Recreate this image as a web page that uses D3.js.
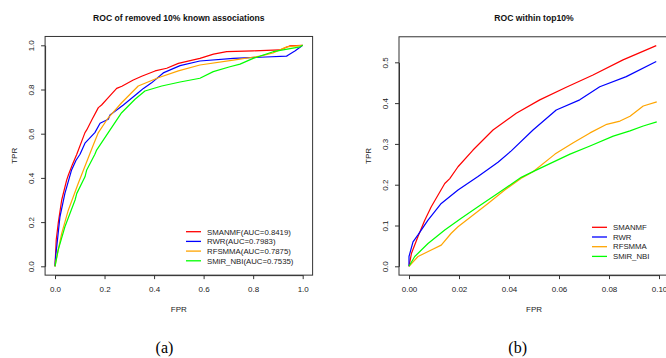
<!DOCTYPE html>
<html>
<head>
<meta charset="utf-8">
<script src="https://cdn.jsdelivr.net/npm/d3@7"></script>
<style>
  body { margin: 0; background: #fff; }
  svg { display: block; font-family: "Liberation Sans", Arial, sans-serif; }
</style>
</head>
<body>
<script>
// Nombres de los métodos y colores
const methods = ["SMANMF", "RWR", "RFSMMA", "SMiR_NBI"];
const aucValues = ["0.8419", "0.7983", "0.7875", "0.7535"];
const colors = ["#ff0000", "#0000ff", "#ffa500", "#00ff00"];

// Curvas ROC del panel (a): pares [FPR, TPR]
const rocA_SMANMF = [[0,0],[0.005,0.12],[0.013,0.195],[0.027,0.30],[0.047,0.39],[0.054,0.413],[0.07,0.46],[0.088,0.507],[0.121,0.605],[0.128,0.617],[0.15,0.665],[0.175,0.718],[0.188,0.73],[0.215,0.763],[0.249,0.805],[0.27,0.815],[0.316,0.843],[0.35,0.86],[0.404,0.884],[0.451,0.896],[0.498,0.918],[0.585,0.941],[0.64,0.96],[0.693,0.971],[0.8,0.975],[0.908,0.979],[0.949,0.998],[1,1]];
const rocA_RWR = [[0,0],[0.003,0.05],[0.007,0.089],[0.02,0.224],[0.04,0.33],[0.067,0.436],[0.085,0.48],[0.101,0.507],[0.121,0.557],[0.161,0.605],[0.182,0.647],[0.215,0.665],[0.222,0.685],[0.276,0.73],[0.336,0.785],[0.357,0.805],[0.39,0.83],[0.437,0.875],[0.505,0.908],[0.585,0.929],[0.72,0.941],[0.85,0.947],[0.935,0.951],[0.942,0.956],[0.97,0.975],[1,1]];
const rocA_RFSMMA = [[0,0],[0.007,0.043],[0.027,0.149],[0.054,0.255],[0.094,0.376],[0.134,0.49],[0.155,0.55],[0.175,0.605],[0.215,0.672],[0.269,0.74],[0.336,0.816],[0.417,0.853],[0.498,0.884],[0.585,0.911],[0.72,0.933],[0.828,0.951],[0.88,0.965],[0.935,0.993],[1,1]];
const rocA_SMiR_NBI = [[0,0],[0.013,0.074],[0.04,0.179],[0.081,0.30],[0.088,0.33],[0.121,0.405],[0.128,0.436],[0.161,0.507],[0.168,0.526],[0.215,0.605],[0.269,0.695],[0.323,0.756],[0.363,0.793],[0.431,0.816],[0.505,0.834],[0.585,0.851],[0.639,0.881],[0.706,0.903],[0.747,0.915],[0.8,0.941],[0.881,0.971],[0.989,0.993],[1,1]];

// Curvas ROC del panel (b), dentro del top 10%
const rocB_SMANMF = [[0,0],[0.001,0.032],[0.0036,0.073],[0.0063,0.113],[0.0089,0.146],[0.0143,0.203],[0.0163,0.215],[0.0196,0.244],[0.0256,0.285],[0.0336,0.334],[0.0429,0.375],[0.0523,0.408],[0.0629,0.439],[0.0736,0.469],[0.0856,0.506],[0.0989,0.541]];
const rocB_RWR = [[0,0],[0,0.024],[0.0016,0.06],[0.0036,0.077],[0.0076,0.113],[0.0129,0.154],[0.0196,0.187],[0.0276,0.22],[0.0356,0.255],[0.0409,0.283],[0.0496,0.334],[0.0589,0.383],[0.0683,0.408],[0.0763,0.44],[0.0869,0.465],[0.0989,0.502]];
const rocB_RFSMMA = [[0,0],[0.0036,0.024],[0.0089,0.04],[0.0129,0.052],[0.0169,0.081],[0.0196,0.097],[0.0249,0.122],[0.0316,0.154],[0.0383,0.187],[0.0449,0.216],[0.0496,0.232],[0.0584,0.275],[0.0657,0.303],[0.0724,0.327],[0.0791,0.348],[0.0844,0.356],[0.0884,0.368],[0.0937,0.393],[0.0991,0.403]];
const rocB_SMiR_NBI = [[0,0],[0.0023,0.024],[0.0076,0.056],[0.0143,0.089],[0.0209,0.118],[0.0276,0.146],[0.0356,0.179],[0.0449,0.218],[0.0496,0.232],[0.0644,0.275],[0.0724,0.295],[0.0817,0.319],[0.0884,0.332],[0.0937,0.344],[0.0991,0.354]];

// Ticks de los ejes
const ticksA_x = [0, 0.2, 0.4, 0.6, 0.8, 1.0];
const ticksA_y = [0, 0.2, 0.4, 0.6, 0.8, 1.0];
const ticksB_x = [0, 0.02, 0.04, 0.06, 0.08, 0.10];
const ticksB_y = [0, 0.1, 0.2, 0.3, 0.4, 0.5];

const svg = d3.select("body").append("svg")
    .attr("width", 666)
    .attr("height", 358);

// Dibuja un panel completo al estilo de R
function drawPanel(p) {
    const x = d3.scaleLinear().domain([0, p.xMax]).range(p.xRange);
    const y = d3.scaleLinear().domain([0, p.yMax]).range(p.yRange);

    // caja con 4% de margen sobre el rango de los datos (como R)
    const dx = p.xMax * 0.04;
    const dy = p.yMax * 0.04;
    const x0 = x(-dx), x1 = x(p.xMax + dx);
    const y0 = y(p.yMax + dy), y1 = y(-dy);

    const g = svg.append("g");

    const line = d3.line().x(d => x(d[0])).y(d => y(d[1]));
    g.selectAll("path.roc")
        .data(p.series)
        .enter()
        .append("path")
        .attr("class", "roc")
        .attr("d", d => line(d))
        .attr("fill", "none")
        .attr("stroke", (d, i) => colors[i])
        .attr("stroke-width", 1.2)
        .attr("stroke-linejoin", "round");

    g.append("rect")
        .attr("x", x0).attr("y", y0)
        .attr("width", x1 - x0).attr("height", y1 - y0)
        .attr("fill", "none")
        .attr("stroke", "#333")
        .attr("stroke-width", 1);

    // eje x (la línea va del primer al último tick)
    const xa = x.copy().domain(d3.extent(p.xTicks)).range(d3.extent(p.xTicks).map(x));
    const xAxis = g.append("g")
        .attr("transform", `translate(0, ${y1})`)
        .call(d3.axisBottom(xa).tickValues(p.xTicks).tickFormat(d3.format(p.xFmt)).tickSize(4).tickSizeOuter(0));
    xAxis.selectAll("text")
        .attr("y", 17).attr("dy", 0)
        .style("font-size", "8px").attr("fill", "#222");

    // eje y con etiquetas verticales
    const ya = y.copy().domain(d3.extent(p.yTicks)).range(d3.extent(p.yTicks).map(y));
    const yAxis = g.append("g")
        .attr("transform", `translate(${x0}, 0)`)
        .call(d3.axisLeft(ya).tickValues(p.yTicks).tickFormat(d3.format(p.yFmt)).tickSize(4).tickSizeOuter(0));
    yAxis.selectAll("text")
        .attr("x", 0).attr("dy", 0)
        .attr("text-anchor", "middle")
        .attr("transform", "translate(-11, 0) rotate(-90)")
        .style("font-size", "8px").attr("fill", "#222");
    g.selectAll(".domain, .tick line").attr("stroke", "#333");

    const cx = (x0 + x1) / 2, cy = (y0 + y1) / 2;

    g.append("text")
        .text(p.title)
        .attr("x", cx).attr("y", 21)
        .attr("text-anchor", "middle")
        .style("font-size", "8.6px").style("font-weight", "bold")
        .attr("fill", "#111");

    g.append("text")
        .text("FPR")
        .attr("x", cx).attr("y", 312)
        .attr("text-anchor", "middle")
        .style("font-size", "8px").attr("fill", "#222");

    g.append("text")
        .text("TPR")
        .attr("transform", `translate(${x0 - 28}, ${cy}) rotate(-90)`)
        .attr("text-anchor", "middle")
        .style("font-size", "8px").attr("fill", "#222");

    // leyenda
    const legend = g.append("g")
        .attr("transform", `translate(${p.legendX}, ${p.legendY})`);
    legend.selectAll("line")
        .data(p.labels)
        .enter()
        .append("line")
        .attr("x1", 0).attr("x2", 15)
        .attr("y1", (d, i) => i * 9.7).attr("y2", (d, i) => i * 9.7)
        .attr("stroke", (d, i) => colors[i])
        .attr("stroke-width", 1.3);
    legend.selectAll("text")
        .data(p.labels)
        .enter()
        .append("text")
        .text(d => d)
        .attr("x", 21)
        .attr("y", (d, i) => i * 9.7 + 2.8)
        .style("font-size", "7.8px")
        .attr("fill", "#222");

    // etiqueta del panel
    svg.append("text")
        .text(p.caption)
        .attr("x", p.captionX).attr("y", 353)
        .attr("text-anchor", "middle")
        .style("font-family", "'Liberation Serif', 'Times New Roman', serif")
        .style("font-size", "16px")
        .attr("fill", "#000");
}

drawPanel({
    title: "ROC of removed 10% known associations",
    series: [rocA_SMANMF, rocA_RWR, rocA_RFSMMA, rocA_SMiR_NBI],
    labels: methods.map((m, i) => `${m}(AUC=${aucValues[i]})`),
    xMax: 1, xRange: [55, 302.7],
    yMax: 1, yRange: [266.3, 45.3],
    xTicks: ticksA_x, yTicks: ticksA_y, xFmt: ".1f", yFmt: ".1f",
    legendX: 186, legendY: 231.7,
    caption: "(a)", captionX: 164.5
});

drawPanel({
    title: "ROC within top10%",
    series: [rocB_SMANMF, rocB_RWR, rocB_RFSMMA, rocB_SMiR_NBI],
    labels: methods,
    xMax: 0.1, xRange: [409, 659],
    yMax: 0.541, yRange: [266.3, 45.6],
    xTicks: ticksB_x, yTicks: ticksB_y, xFmt: ".2f", yFmt: ".1f",
    legendX: 592, legendY: 227.3,
    caption: "(b)", captionX: 517.7
});
</script>
</body>
</html>
